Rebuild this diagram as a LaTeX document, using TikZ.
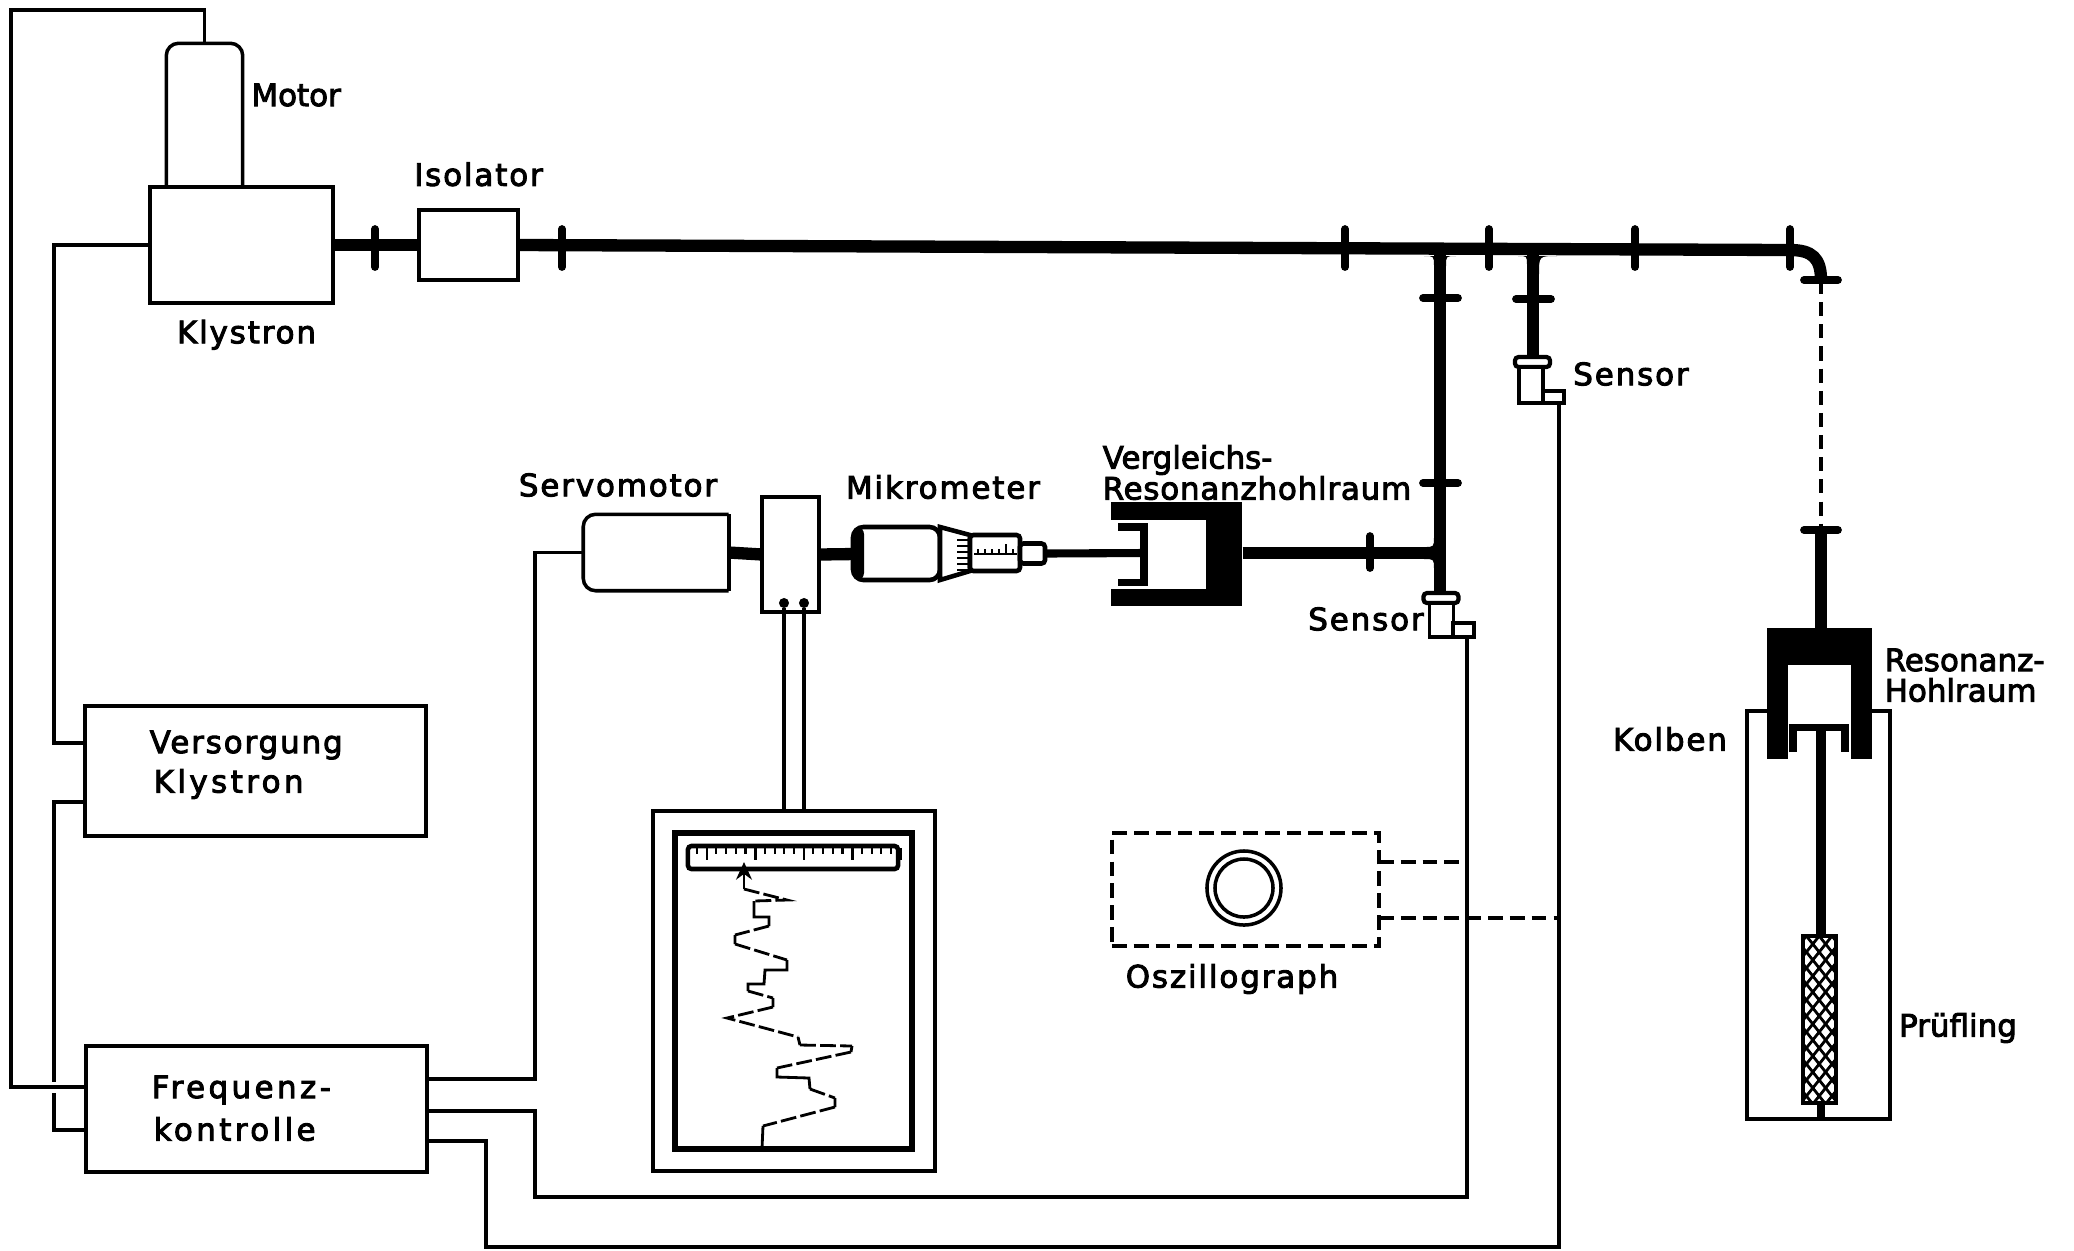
\documentclass[tikz,border=0pt]{standalone}
\usepackage{fontspec}
\setmainfont[BoldFont={DejaVu Sans},BoldFeatures={FakeBold=3}]{DejaVu Sans}
\usetikzlibrary{arrows.meta,positioning,calc}

\newcommand{\gfil}[3]{\fill ($(#1)+(#2,0)$) .. controls (#1) .. ($(#1)+(0,#3)$) -- (#1) -- cycle;}

\begin{document}
\begin{tikzpicture}[x=0.01cm,y=-0.01cm,>=Stealth,font=\bfseries\fontsize{8.8}{10}\selectfont,
  box/.style={draw,line width=1pt,fill=white,inner sep=0pt,outer sep=0pt},
  wire/.style={line width=1pt},
  wave/.style={line width=3.5pt},
  flange/.style={line width=2.2pt,line cap=round},
  dashln/.style={line width=1.1pt,dash pattern=on 4.2pt off 2pt},
  pist/.style={line width=2pt},
  trace/.style={line width=.8pt},
  tick/.style={line width=.6pt},
  lab/.style={inner sep=0pt,align=left},
  slab/.style={lab,font=\bfseries\fontsize{8.8}{10}\selectfont\addfontfeatures{LetterSpace=6,FakeBold=3}},
  wlab/.style={lab,font=\bfseries\fontsize{8.8}{10}\selectfont\addfontfeatures{LetterSpace=11,FakeBold=3}}]
  \useasboundingbox (0,0) rectangle (2074,1250);

  % blocks
  \node (motor) at (204.5,115) [minimum width=.75cm,minimum height=1.42cm,inner sep=0pt] {};
  \draw[line width=1pt,rounded corners=3.5pt] (motor.south west) -- (motor.north west) -- (motor.north east) -- (motor.south east);
  \node[box,minimum width=1.83cm,minimum height=1.16cm] (klys) at (241.5,245) {};
  \node[box,minimum width=.99cm,minimum height=.70cm] (isol) at (468.5,245) {};
  \node[box,minimum width=3.41cm,minimum height=1.30cm] (vers) at (255.5,771) {};
  \node[box,minimum width=3.41cm,minimum height=1.26cm] (freq) at (256.5,1109) {};
  \node (servo) at (656,552.5) [minimum width=1.44cm,minimum height=.75cm,inner sep=0pt] {};
  \draw[line width=1pt,rounded corners=3.5pt] (servo.north east) -- (servo.north west) -- (servo.south west) -- (servo.south east);
  \draw[line width=1pt] (servo.north east) -- (servo.south east);
  \node[box,minimum width=.57cm,minimum height=1.15cm] (jbox) at (790.5,554.5) {};
  \node[draw,line width=1.2pt,circle,fill=black,inner sep=0pt,minimum size=.055cm] (jd1) at (784,603) {};
  \node[draw,line width=1.2pt,circle,fill=black,inner sep=0pt,minimum size=.055cm] (jd2) at (804,603) {};

  % ports
  \coordinate (vers1) at (85,743);
  \coordinate (vers2) at (85,802);
  \coordinate (freq1) at (86,1087);
  \coordinate (freq2) at (86,1130);
  \coordinate (freqA) at (427,1079);
  \coordinate (freqB) at (427,1111);
  \coordinate (freqC) at (427,1141);
  \coordinate (topl) at (11,10);
  \coordinate (busA) at (54,743);
  \coordinate (busB) at (54,802);
  \coordinate (gapA) at (54,1082);
  \coordinate (gapB) at (54,1093);
  \coordinate (cA) at (535,552.5);
  \coordinate (cB) at (535,1197);
  \coordinate (cC) at (486,1247);
  \coordinate (s1) at (1467,637);
  \coordinate (s2) at (1559,403);
  \coordinate (tapA) at (1467,862);
  \coordinate (tapB) at (1558,918);
  \coordinate (jA) at (1440,250);
  \coordinate (jB) at (1533,250);
  \coordinate (jC) at (1440,553);
  \coordinate (elb) at (1790,250);
  \coordinate (elc) at (1821,280);
  \coordinate (eld) at (1821,530);

  % wires
  \draw[wire] (motor.north) |- (topl) |- (freq1);
  \draw[wire] (klys.west) -| (busA) -- (vers1);
  \draw[wire] (vers2) -- (busB) -- (gapA);
  \draw[wire] (gapB) |- (freq2);
  \draw[wire] (freqA) -| (cA) -- (servo.west);
  \draw[wire] (freqB) -| (cB) -| (s1);
  \draw[wire] (freqC) -| (cC) -| (s2);

  % waveguide
  \draw[wave] (klys.east) -- (isol.west);
  \draw[wave] (isol.east) -- (elb) .. controls (1812,250) and (1821,258) .. (elc);
  \draw[wave] (jA) -- (1440,593);
  \draw[wave] (jB) -- (1533,357);
  \gfil{1434,256}{-10}{10}
  \gfil{1446,256}{10}{10}
  \gfil{1527,256}{-9}{9}
  \gfil{1539,256}{18}{18}
  \foreach \x in {375,562,1345,1489,1635,1790} \draw[flange] (\x,229) -- (\x,267);
  \draw[flange] (1423,298) -- (1458,298);
  \draw[flange] (1423,483) -- (1458,483);
  \draw[flange] (1516,299) -- (1551,299);
  \draw[flange] (1804,280) -- (1838,280);
  \draw[flange] (1804,530) -- (1838,530);
  \draw[line width=1.1pt,dash pattern=on 4pt off 2.3pt] (elc) -- (eld);
  \draw[flange] (1370,536) -- (1370,568);

  % comparison cavity
  \node[fill=black,inner sep=0pt,minimum width=1.31cm,minimum height=1.04cm] (vcav) at (1176.5,554) {};
  \fill[white] (1108,520) rectangle (1206,589);
  \draw[pist] (1118,527) -- (1144,527) -- (1144,582) -- (1118,582);
  \draw[wave] (vcav.east |- jC) -- (jC);
  \gfil{1434,547}{-10}{-10}
  \gfil{1434,559}{-10}{10}

  % sensors
  \node[box,line width=1.2pt,rounded corners=1pt,minimum width=.35cm,minimum height=.10cm] (cap1) at (1441,598) {};
  \node[box,minimum width=.24cm,minimum height=.34cm] (sbody1) at (1441.5,620) {};
  \node[box,minimum width=.21cm,minimum height=.14cm] (stab1) at (1463.5,630) {};
  \node[box,line width=1.2pt,rounded corners=1pt,minimum width=.35cm,minimum height=.10cm] (cap2) at (1532.5,362) {};
  \node[box,minimum width=.24cm,minimum height=.36cm] (sbody2) at (1531,385) {};
  \node[box,minimum width=.21cm,minimum height=.12cm] (stab2) at (1553.5,397) {};

  % micrometer
  \draw[wave] (servo.east) -- (jbox.west);
  \draw[wave] (jbox.east) -- (855,554);
  \node[box,line width=1.3pt,rounded corners=3pt,minimum width=.87cm,minimum height=.53cm] (mbody) at (896.5,553.5) {};
  \fill[rounded corners=2pt] (853,527) rectangle (864,580);
  \draw[line width=1.3pt,fill=white] (940,527) -- (970,535) -- (970,571) -- (940,580) -- cycle;
  \node[box,line width=1.3pt,rounded corners=1pt,minimum width=.50cm,minimum height=.36cm] (mbar) at (995,553) {};
  \draw[tick] (974,554) -- (1017,554);
  \foreach \x in {978,985,...,1015} \draw[tick] (\x,554) -- (\x,549);
  \draw[tick] (1006,554) -- (1006,544);
  \foreach \y in {540,546,...,570} \draw[tick] (970,\y) -- (957,\y);
  \node[box,line width=1.3pt,rounded corners=1pt,minimum width=.25cm,minimum height=.20cm] (mtip) at (1032.5,553.5) {};
  \draw[line width=2.3pt] (mtip.east) -- (1144,553);

  % recorder
  \node[box,line width=1.3pt,minimum width=2.82cm,minimum height=3.60cm] (rec) at (794,991) {};
  \node[box,line width=1.5pt,minimum width=2.37cm,minimum height=3.16cm] (chart) at (793.5,991) {};
  \node[box,line width=1.3pt,rounded corners=1pt,minimum width=2.10cm,minimum height=.23cm] (scale) at (793,857.5) {};
  \foreach \x in {0,...,20} \draw[tick] (697+9.7*\x,848) -- (697+9.7*\x,854);
  \foreach \x in {0,5,...,20} \draw[tick] (707+9.7*\x,848) -- (707+9.7*\x,860);
  \draw[wire] (jd1) -- (jd1 |- rec.north);
  \draw[wire] (jd2) -- (jd2 |- rec.north);
  \draw[trace,-{Stealth[length=5pt,width=4.5pt]}] (744,889) -- (744,862);
  \draw[trace] (754,901) -- (754,917) -- (769,917) -- (769,926) (735,935) -- (735,944)
    (787,960) -- (787,970) -- (765,970) -- (764,984) -- (748,984) -- (748,991) (773,998) -- (773,1007)
    (798,1037) -- (800,1045) (852,1046) -- (851,1052) (777,1068) -- (777,1077) -- (809,1078) -- (810,1089)
    (835,1098) -- (835,1107) (763,1126) -- (762,1149);
  \draw[trace,dash pattern=on 4.5pt off 1.2pt] (744,889) -- (787,900) -- (754,901) (769,926) -- (735,935)
    (735,944) -- (787,960) (748,991) -- (773,998) (773,1007) -- (727,1018) -- (798,1037)
    (800,1045) -- (852,1046) (851,1052) -- (777,1068) (810,1089) -- (835,1098) (835,1107) -- (763,1126);

  % oscillograph
  \node[box,dashln,minimum width=2.67cm,minimum height=1.13cm] (osc) at (1245.5,889.5) {};
  \node[circle,draw,line width=1pt,inner sep=0pt,minimum size=.74cm] (scr1) at (1244,888) {};
  \node[circle,draw,line width=1pt,inner sep=0pt,minimum size=.58cm] (scr2) at (1244,888) {};
  \draw[dashln] (osc.east |- tapA) -- (tapA);
  \draw[dashln] (osc.east |- tapB) -- (tapB);

  % test cavity
  \node[box,minimum width=1.43cm,minimum height=4.08cm] (kolb) at (1818.5,915) {};
  \draw[wave] (eld) -- (1821,630);
  \node[fill=black,inner sep=0pt,minimum width=1.05cm,minimum height=1.31cm] (rcav) at (1819.5,693.5) {};
  \fill[white] (1788,665) rectangle (1851,760);
  \draw[pist] (1793,752) -- (1793,727) -- (1845,727) -- (1845,752);
  \draw[line width=2.8pt] (1821,727) -- (1821,936);
  \draw[line width=2.5pt] (1821,1103) -- (1821,1119);
  \node[box,line width=1.3pt,minimum width=.33cm,minimum height=1.67cm] (probe) at (1819.5,1019.5) {};
  \begin{scope}
    \clip (1803,936) rectangle (1836,1103);
    \foreach \s in {880,896,...,1160} {
      \draw[line width=.8pt] (1800,\s) -- ++(40,50);
      \draw[line width=.8pt] (1800,\s) -- ++(40,-50);
    }
  \end{scope}
  \draw[line width=1.3pt] (probe.south west) rectangle (probe.north east);

  % labels
  \node[lab,right=.8mm of motor,yshift=.2cm] (lmotor) {Motor};
  \node[slab,above=2.3mm of isol,xshift=.1cm] (lisol) {Isolator};
  \node[slab,below=1.6mm of klys,xshift=.05cm] (lklys) {Klystron};
  \node[slab,anchor=west] (lvers) at (149,745) {Versorgung};
  \node[wlab,anchor=west] (lvers2) at (153,784) {Klystron};
  \node[wlab,anchor=west] (lfreq) at (151,1090) {Frequenz-};
  \node[wlab,anchor=west] (lfreq2) at (153,1129) {kontrolle};
  \node[slab] (lservo) at (618,485) {Servomotor};
  \node[slab] (lmikro) at (943,487) {Mikrometer};
  \node[lab,anchor=west] (lverg) at (1102,460) {Vergleichs-};
  \node[lab,anchor=west,font=\bfseries\fontsize{8.8}{10}\selectfont\addfontfeatures{LetterSpace=2.5,FakeBold=3}] (lreso) at (1102,488) {Resonanzhohlraum};
  \node[slab] (lsens1) at (1366,619) {Sensor};
  \node[slab] (lsens2) at (1631,374) {Sensor};
  \node[lab,anchor=west] (lres) at (1884,660) {Resonanz-};
  \node[lab,anchor=west] (lhohl) at (1884,690) {Hohlraum};
  \node[slab] (lkolb) at (1670,739) {Kolben};
  \node[lab] (lpruef) at (1958,1028) {Prüfling};
  \node[slab] (losc) at (1232,979) {Oszillograph};
\end{tikzpicture}
\end{document}
